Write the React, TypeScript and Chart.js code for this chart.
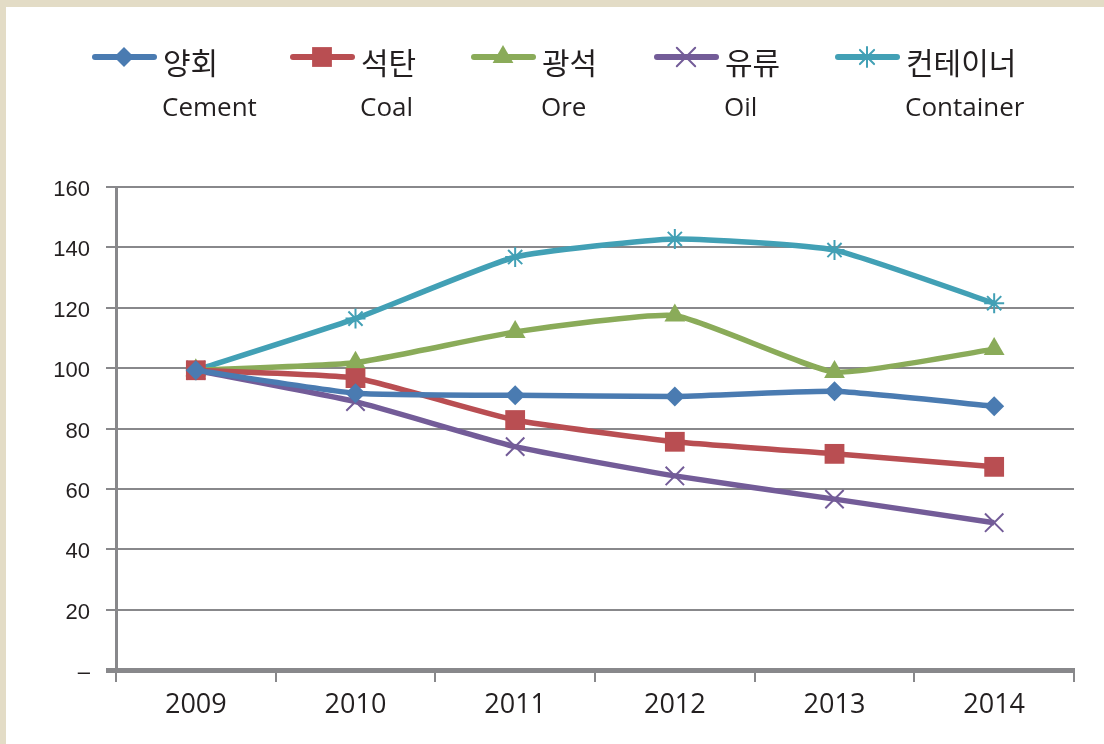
import React, { useEffect, useRef } from 'react';
import { Chart, registerables } from 'chart.js';
import { drawPoint } from 'chart.js/helpers';

Chart.register(...registerables);

const years = ['2009', '2010', '2011', '2012', '2013', '2014'];
const seriesKo = ['양회', '석탄', '광석', '유류', '컨테이너'];
const seriesEn = ['Cement', 'Coal', 'Ore', 'Oil', 'Container'];
const cement = [99.3, 91.7, 91.0, 90.6, 92.3, 87.4];
const coal = [99.3, 96.7, 82.8, 75.6, 71.6, 67.3];
const ore = [99.3, 101.8, 112.0, 117.4, 98.7, 106.3];
const oil = [99.3, 88.9, 74.0, 64.3, 56.6, 48.8];
const container = [99.3, 116.4, 136.8, 142.8, 139.1, 121.5];
const yMin = 0;
const yMax = 160;
const yStep = 20;

const colors = ['#4a7bb1', '#b94e52', '#8aab59', '#735c98', '#42a0b5'];
const pointStyles = ['rectRot', 'rect', 'triangle', 'crossRot', 'star'];
const pointRadii = [10, 14, 12, 13, 10];
const legendStarts = [92, 290, 471, 654, 835];

const GRID = '#88888b';
const TEXT = '#231f20';

const legendPlugin = {
  id: 'twoLineLegend',
  afterDraw(chart: any) {
    const ctx = chart.ctx as CanvasRenderingContext2D;
    ctx.save();
    seriesKo.forEach((ko, i) => {
      const x = legendStarts[i];
      const y = 57;
      ctx.strokeStyle = colors[i];
      ctx.fillStyle = colors[i];
      ctx.lineWidth = 6;
      ctx.lineCap = 'round';
      ctx.beginPath();
      ctx.moveTo(x + 3, y);
      ctx.lineTo(x + 62, y);
      ctx.stroke();
      const isCross = pointStyles[i] === 'crossRot' || pointStyles[i] === 'star';
      ctx.lineWidth = 2;
      drawPoint(ctx, {
        pointStyle: pointStyles[i],
        radius: pointRadii[i],
        rotation: 0,
        borderWidth: isCross ? 2 : 0,
      } as any, x + 32, y);
      ctx.fillStyle = TEXT;
      ctx.textAlign = 'left';
      ctx.textBaseline = 'middle';
      ctx.font = '30px "Noto Sans CJK KR"';
      ctx.fillText(ko, x + 71, 63);
      ctx.textBaseline = 'alphabetic';
      ctx.font = '26px "Open Sans"';
      ctx.fillText(seriesEn[i], x + 70, 116);
    });
    ctx.restore();
  },
};

export default function App() {
  const canvasRef = useRef<HTMLCanvasElement | null>(null);

  useEffect(() => {
    const canvas = canvasRef.current;
    if (!canvas) return;
    const allData = [cement, coal, ore, oil, container];
    const chart = new Chart(canvas, {
      type: 'line',
      data: {
        labels: years,
        datasets: allData.map((d, i) => ({
          label: seriesKo[i] + ' ' + seriesEn[i],
          data: d,
          borderColor: colors[i],
          backgroundColor: colors[i],
          borderWidth: 5.5,
          tension: 0.15,
          pointStyle: pointStyles[i] as any,
          pointRadius: pointRadii[i],
          pointBorderWidth: pointStyles[i] === 'crossRot' || pointStyles[i] === 'star' ? 2 : 0,
          pointBackgroundColor: colors[i],
          pointBorderColor: colors[i],
        })),
      },
      options: {
        responsive: false,
        animation: false,
        layout: { padding: { top: 187, left: 0, right: 30, bottom: 0 } },
        plugins: {
          legend: { display: false },
          tooltip: { enabled: false },
          title: { display: false },
        },
        scales: {
          x: {
            offset: true,
            grid: {
              offset: true,
              drawOnChartArea: false,
              drawTicks: true,
              tickLength: 12,
              color: GRID,
              lineWidth: 2,
            },
            border: { display: true, color: GRID, width: 5 },
            ticks: {
              color: TEXT,
              font: { family: '"Open Sans"', size: 27 },
              padding: 7,
              maxRotation: 0,
            },
            afterFit(scale: any) {
              scale.height = 74;
            },
          },
          y: {
            min: yMin,
            max: yMax,
            grid: {
              color: GRID,
              lineWidth: (c: any) => (c.tick && c.tick.value === 0 ? 5 : 2),
              drawTicks: true,
              tickLength: 10,
            },
            border: { display: true, color: GRID, width: 3 },
            ticks: {
              stepSize: yStep,
              color: TEXT,
              font: { family: '"Liberation Sans"', size: 22 },
              padding: 16,
              labelOffset: 3,
              callback: (v: any) => (Number(v) === 0 ? '–' : String(v)),
            },
            afterFit(scale: any) {
              scale.width = 116;
            },
          },
        },
      },
      plugins: [legendPlugin],
    });
    return () => chart.destroy();
  }, []);

  return (
    <div style={{ position: 'fixed', left: 0, top: 0, width: 1104, height: 744, background: '#ffffff', overflow: 'hidden' }}>
      <div style={{ position: 'absolute', left: 0, top: 0, width: 1104, height: 7, background: '#e3dcc6' }} />
      <div style={{ position: 'absolute', left: 0, top: 0, width: 6, height: 744, background: '#e3dcc6' }} />
      <canvas ref={canvasRef} width={1104} height={744} style={{ position: 'absolute', left: 0, top: 0 }} />
    </div>
  );
}
